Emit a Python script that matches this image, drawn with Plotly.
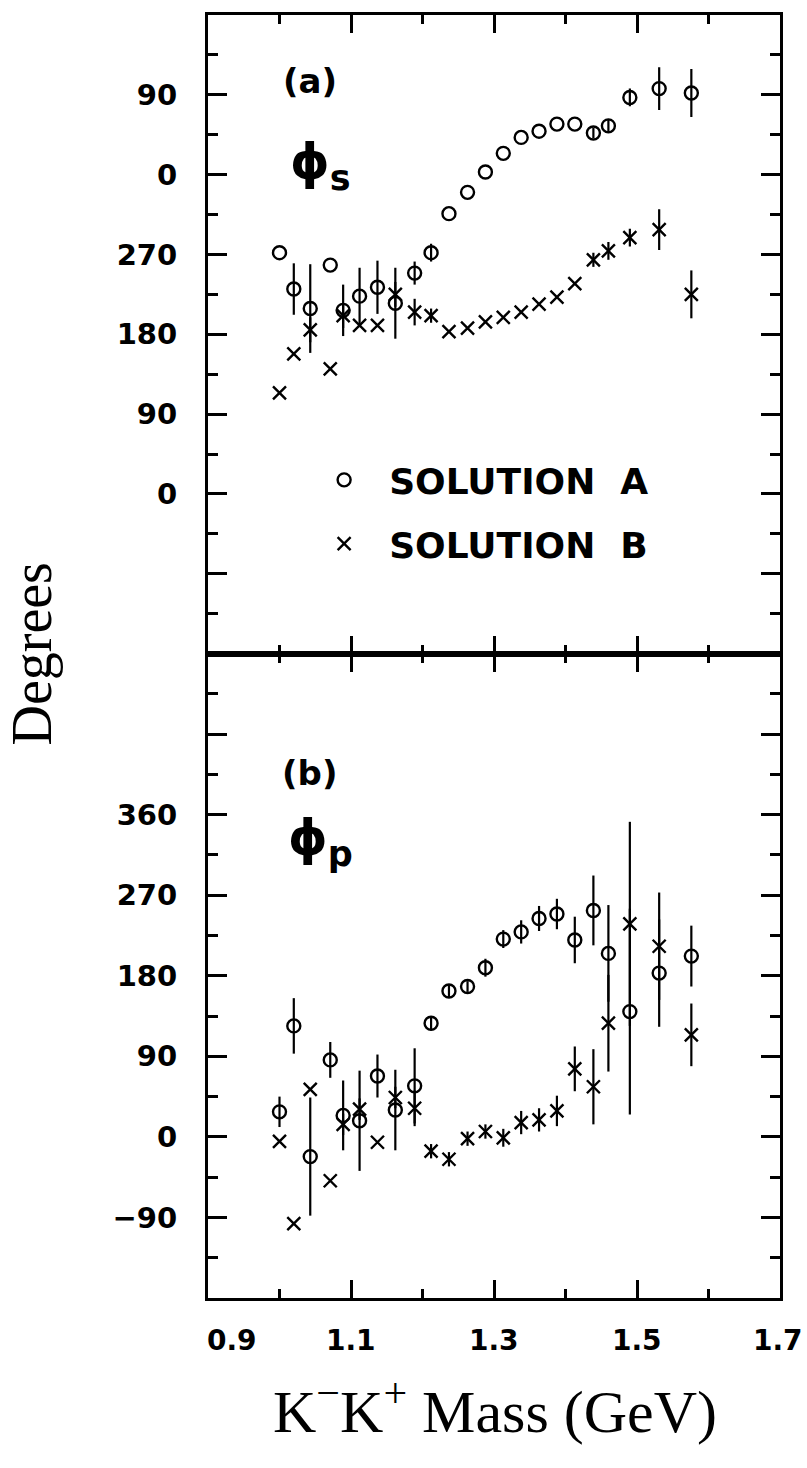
import plotly.graph_objects as go
from plotly.subplots import make_subplots

# K-K+ mass bins (GeV)
mass = [1.000, 1.020, 1.043, 1.071, 1.089, 1.112, 1.137, 1.162, 1.189, 1.212,
        1.237, 1.263, 1.288, 1.313, 1.338, 1.363, 1.388, 1.413, 1.439, 1.460,
        1.490, 1.531, 1.576]

# (a) phi_s, degrees (unwrapped axis, labels mod 360)
phi_s_A = [272, 231, 209, 258, 207, 223, 233, 215, 249, 272, 316, 340, 363, 384,
           402, 409, 417, 417, 407, 415, 447, 457, 452]
phi_s_A_err = [0, 29, 50, 0, 29, 32, 30, 40, 13, 10, 0, 0, 0, 0, 0, 0, 0, 0,
               6, 7, 10, 24, 27]
phi_s_B = [114, 158, 185, 141, 201, 190, 190, 225, 205, 201, 183, 187, 194, 199,
           205, 214, 222, 237, 264, 274, 289, 298, 225]
phi_s_B_err = [0, 0, 14, 0, 14, 0, 0, 14, 15, 8, 0, 0, 0, 0, 0, 0, 0, 0,
               8, 10, 10, 23, 27]

# (b) phi_p, degrees
phi_p_A = [28, 124, -22, 86, 24, 18, 68, 30, 57, 127, 163, 168, 189, 221, 229,
           244, 249, 220, 253, 205, 140, 183, 202]
phi_p_A_err = [17, 31, 66, 20, 39, 56, 24, 45, 42, 8, 7, 6, 10, 10, 13, 14, 17,
               26, 39, 54, 115, 60, 34]
phi_p_B = [-5, -97, 53, -49, 14, 31, -6, 44, 32, -16, -25, -2, 6, -1, 16, 19, 29,
           76, 56, 127, 238, 213, 114]
phi_p_B_err = [0, 0, 0, 0, 12, 12, 0, 12, 20, 8, 8, 8, 8, 10, 13, 13, 17, 25,
               42, 54, 114, 60, 35]

# axis ticks
x_major = [0.9, 1.1, 1.3, 1.5, 1.7]
x_major_text = ["0.9", "1.1", "1.3", "1.5", "1.7"]
x_minor = [1.0, 1.2, 1.4, 1.6]
y_major = [-180, -90, 0, 90, 180, 270, 360, 450, 540]
y_text_a = ["", "", "0", "90", "180", "270", "0", "90", ""]
y_text_b = ["", "\u221290", "0", "90", "180", "270", "360", "", ""]
y_minor = [-135, -45, 45, 135, 225, 315, 405, 495]

fig = make_subplots(rows=2, cols=1, shared_xaxes=True, vertical_spacing=0,
                    row_heights=[0.4977, 0.5023])


def add(row, y, err, sym, name, showlegend):
    fig.add_trace(go.Scatter(
        x=mass, y=y, mode="markers", name=name, legendgroup=name,
        showlegend=showlegend,
        marker=dict(symbol=sym, size=13, color="black",
                    line=dict(color="black", width=2.4)),
        error_y=dict(type="data", array=err, visible=True, color="black",
                     thickness=2.2, width=0)),
        row=row, col=1)


add(1, phi_s_A, phi_s_A_err, "circle-open", "\u00a0\u00a0SOLUTION\u00a0\u00a0A", True)
add(1, phi_s_B, phi_s_B_err, "x-thin-open", "\u00a0\u00a0SOLUTION\u00a0\u00a0B", True)
add(2, phi_p_A, phi_p_A_err, "circle-open", "\u00a0\u00a0SOLUTION\u00a0\u00a0A", False)
add(2, phi_p_B, phi_p_B_err, "x-thin-open", "\u00a0\u00a0SOLUTION\u00a0\u00a0B", False)

tickfont = dict(family="DejaVu Sans", size=29, color="black", weight="bold")

xcommon = dict(range=[0.9, 1.7], showline=True, linewidth=3, linecolor="black",
               mirror="allticks", ticks="inside", tickmode="array",
               tickvals=x_major, ticklen=18, tickwidth=2.5, tickcolor="black",
               minor=dict(tickmode="array", tickvals=x_minor, ticks="inside",
                          ticklen=9, tickwidth=2.5, tickcolor="black"),
               showgrid=False, zeroline=False, showticklabels=False)
fig.update_xaxes(**xcommon)

ycommon = dict(range=[-180, 540], showline=True, linewidth=3, linecolor="black",
               mirror="allticks", ticks="inside", tickmode="array",
               tickvals=y_major, ticklen=19, tickwidth=2.5, tickcolor="black",
               minor=dict(tickmode="array", tickvals=y_minor, ticks="inside",
                          ticklen=10, tickwidth=2.5, tickcolor="black"),
               showgrid=False, zeroline=False, tickfont=tickfont,
               ticklabelstandoff=22)
fig.update_yaxes(**ycommon)
fig.update_yaxes(ticktext=y_text_a, row=1, col=1)
fig.update_yaxes(ticktext=y_text_b, row=2, col=1)

annotations = []
# x tick labels
x_shift = [24, 0, 0, 0, -2]
for v, t, s in zip(x_major, x_major_text, x_shift):
    annotations.append(dict(x=v, y=-0.033, xref="x2", yref="paper", text=t,
                            showarrow=False, xanchor="center", yanchor="middle",
                            xshift=s, font=dict(family="DejaVu Sans", size=28,
                                                color="black", weight="bold")))
# panel labels
lab_font = dict(family="DejaVu Sans", size=34, color="black", weight="bold")
phi_font = dict(family="DejaVu Sans", size=50, color="black", weight="bold")
annotations += [
    dict(x=1.042, y=466, xref="x", yref="y", text="(a)", showarrow=False, font=lab_font),
    dict(x=1.058, y=370, xref="x", yref="y", text="\u03d5<sub>s</sub>", showarrow=False, font=phi_font),
    dict(x=1.042, y=407, xref="x2", yref="y2", text="(b)", showarrow=False, font=lab_font),
    dict(x=1.058, y=330, xref="x2", yref="y2", text="\u03d5<sub>p</sub>", showarrow=False, font=phi_font),
    dict(x=-0.3077, y=0.5023, xref="paper", yref="paper", text="Degrees",
         textangle=-90, showarrow=False, xanchor="center", yanchor="middle",
         font=dict(family="Liberation Serif", size=56, color="black")),
    dict(x=0.5017, y=-0.0855, xref="paper", yref="paper",
         text="K<sup>\u2212</sup>K<sup>+</sup> Mass (GeV)",
         showarrow=False, xanchor="center", yanchor="middle",
         font=dict(family="Liberation Serif", size=60, color="black")),
]

fig.update_layout(
    width=807, height=1468,
    margin=dict(l=208, r=27, t=12, b=170),
    paper_bgcolor="white", plot_bgcolor="white",
    annotations=annotations,
    showlegend=True,
    legend=dict(x=0.203, y=0.661, xanchor="left", yanchor="top",
                xref="paper", yref="paper", bgcolor="rgba(0,0,0,0)",
                traceorder="grouped", tracegroupgap=14,
                font=dict(family="DejaVu Sans", size=36, color="black", weight="bold")),
)

fig.write_html("out.html")
